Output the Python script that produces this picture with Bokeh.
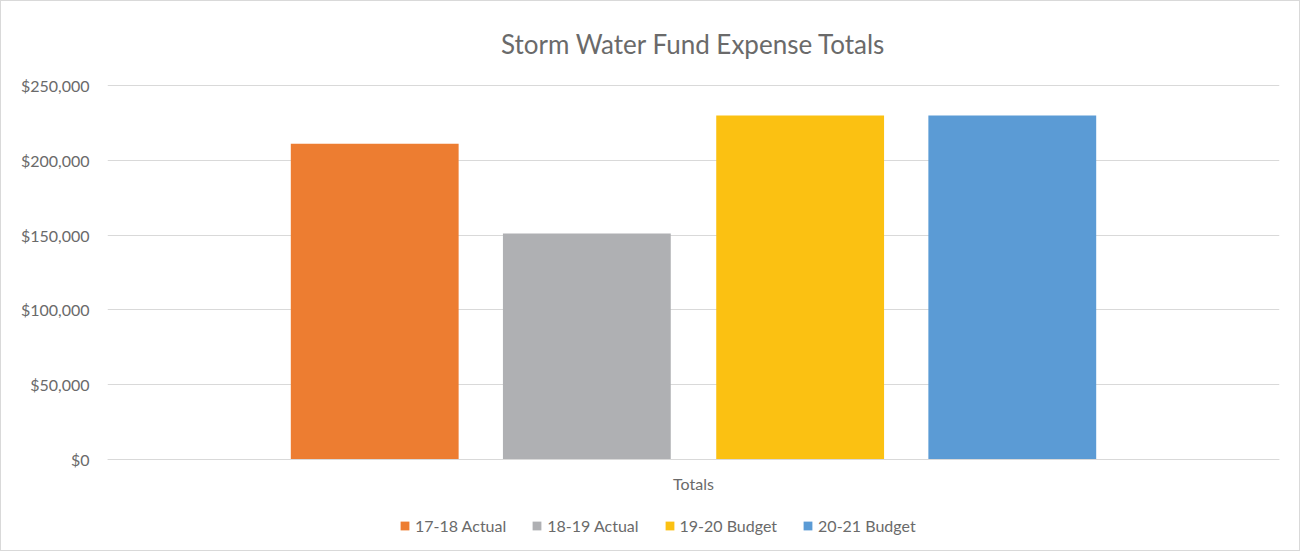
from bokeh.plotting import figure
from bokeh.models import ColumnDataSource, FactorRange, Range1d, NumeralTickFormatter, Legend, LegendItem, FixedTicker
from bokeh.transform import dodge
from bokeh.embed import file_html
from bokeh.resources import INLINE

categories = ["Totals"]
series = ["17-18 Actual", "18-19 Actual", "19-20 Budget", "20-21 Budget"]
values = [211000, 151000, 230000, 230000]
colors = ["#ED7D31", "#AFB0B3", "#FBC112", "#5B9BD5"]
y_ticks = [0, 50000, 100000, 150000, 200000, 250000]

offsets = [-0.272, -0.091, 0.091, 0.272]
bar_width = 0.1432

FONT = "Lato"
TXT = "#6A6A6A"

# layout (pixels)
frame_top, zero_px, frame_bottom = 77, 452, 540
px_per_unit = (zero_px - 78) / y_ticks[-1]
y_max = y_ticks[-1] + 1 / px_per_unit
y_min = -(frame_bottom - zero_px) / px_per_unit

p = figure(frame_width=1172, frame_height=frame_bottom - frame_top, output_backend="svg",
           toolbar_location=None,
           x_range=FactorRange(*categories, range_padding=0), y_range=Range1d(y_min, y_max),
           min_border_left=106, min_border_right=20, min_border_top=frame_top, min_border_bottom=3)

p.title.text = "Storm Water Fund Expense Totals"
p.title.align = "center"
p.title.text_font = FONT
p.title.text_font_size = "26px"
p.title.text_font_style = "normal"
p.title.text_color = TXT
p.title.standoff = 49

items = []
for s, v, c, o in zip(series, values, colors, offsets):
    src = ColumnDataSource(dict(cat=categories, val=[v]))
    r = p.vbar(x=dodge("cat", o, range=p.x_range), top="val", width=bar_width, source=src,
               fill_color=c, line_color=None)
    items.append(LegendItem(label=s, renderers=[r]))

p.yaxis.ticker = FixedTicker(ticks=y_ticks)
p.yaxis.formatter = NumeralTickFormatter(format="$0,0")
p.yaxis.axis_line_color = None
p.yaxis.major_tick_line_color = None
p.yaxis.minor_tick_line_color = None
p.yaxis.major_tick_out = 0
p.yaxis.major_tick_in = 0
p.yaxis.major_label_text_font = FONT
p.yaxis.major_label_text_font_size = "16px"
p.yaxis.major_label_text_color = TXT
p.yaxis.major_label_standoff = 18

p.xaxis.fixed_location = 0
p.xaxis.axis_line_color = "#D9D9D9"
p.xaxis.major_tick_line_color = None
p.xaxis.minor_tick_line_color = None
p.xaxis.major_tick_out = 0
p.xaxis.major_tick_in = 0
p.xaxis.major_label_text_font = FONT
p.xaxis.major_label_text_font_size = "16px"
p.xaxis.major_label_text_color = TXT
p.xaxis.major_label_standoff = 14

p.xgrid.grid_line_color = None
p.ygrid.grid_line_color = "#D9D9D9"
p.outline_line_color = None

legend = Legend(items=items, orientation="horizontal", location=(292, 12),
                label_text_font=FONT, label_text_font_size="16px", label_text_color=TXT,
                glyph_width=11, glyph_height=11, label_standoff=5, spacing=25,
                border_line_color=None, background_fill_alpha=0, padding=0, margin=0)
p.add_layout(legend)

p.styles = {"border": "1px solid #D9D9D9"}

open("out.html", "w").write(file_html(p, INLINE))
